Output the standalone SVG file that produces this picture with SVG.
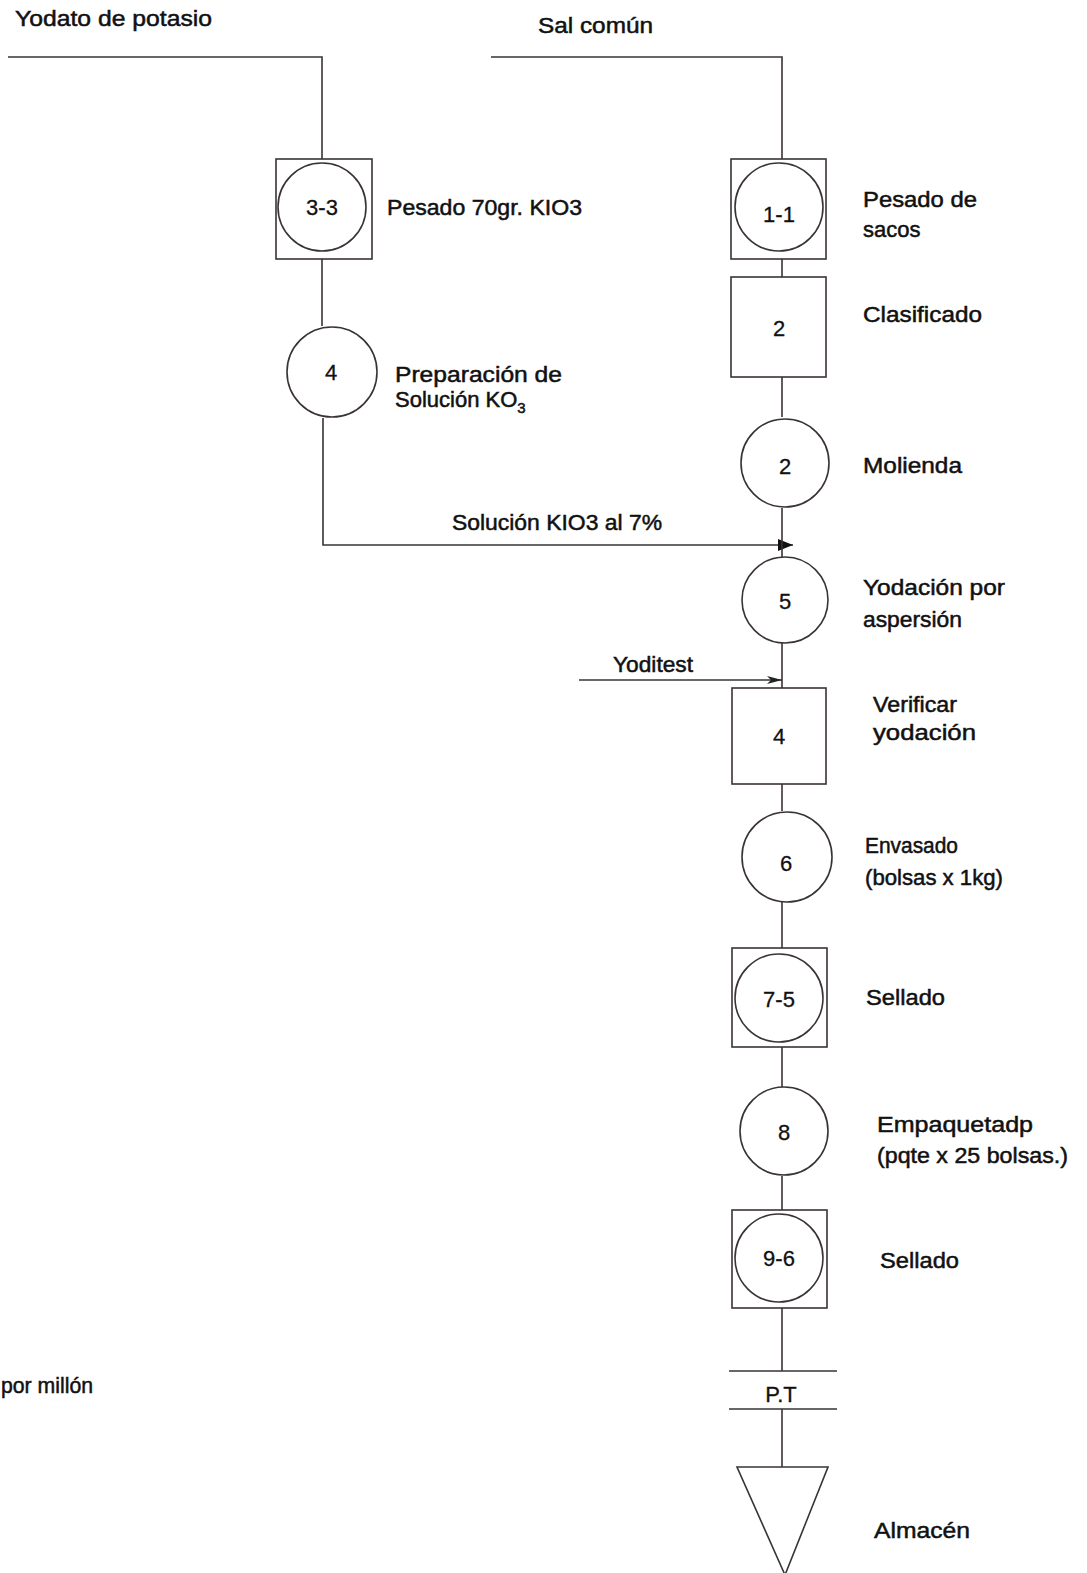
<svg xmlns="http://www.w3.org/2000/svg" width="1087" height="1573" viewBox="0 0 1087 1573">
<style>
  .ln{fill:none;stroke:#3a3336;stroke-width:1.6}
  .sh{fill:#fff;stroke:#3a3336;stroke-width:1.6}
  .t{font-family:"Liberation Sans",Arial,sans-serif;font-size:22px;fill:#111;stroke:#111;stroke-width:0.5}
  .n{font-family:"Liberation Sans",Arial,sans-serif;font-size:22px;fill:#111;stroke:#111;stroke-width:0.3;text-anchor:middle}
</style>
<defs>
  <marker id="ah" markerUnits="userSpaceOnUse" markerWidth="16" markerHeight="12" refX="15" refY="6" orient="auto">
    <path d="M0,0 L15,6 L0,12 Z" fill="#111"/>
  </marker>
  <marker id="ah2" markerUnits="userSpaceOnUse" markerWidth="16" markerHeight="10" refX="15" refY="5" orient="auto">
    <path d="M0,1 L15,5 L0,9 L4,5 Z" fill="#222"/>
  </marker>
</defs>
<rect width="1087" height="1573" fill="#fff"/>

<g id="connectors">
  <path class="ln" d="M8 57 H322 V159"/>
  <path class="ln" d="M491 57 H782 V159"/>
  <path class="ln" d="M322 259 V326"/>
  <path class="ln" d="M323 418 V545 H793" marker-end="url(#ah)"/>
  <path class="ln" d="M782 259 V277"/>
  <path class="ln" d="M782 377 V417"/>
  <path class="ln" d="M782 508 V557"/>
  <path class="ln" d="M782 643 V688"/>
  <path class="ln" d="M579 680 H782" marker-end="url(#ah2)"/>
  <path class="ln" d="M782 784 V811"/>
  <path class="ln" d="M782 902 V948"/>
  <path class="ln" d="M782 1047 V1087"/>
  <path class="ln" d="M782 1176 V1210"/>
  <path class="ln" d="M782 1308 V1371"/>
  <path class="ln" d="M782 1409 V1467"/>
</g>

<g id="input-yodato">
  <text class="t" x="15" y="26" textLength="197" lengthAdjust="spacingAndGlyphs">Yodato de potasio</text>
</g>
<g id="input-sal">
  <text class="t" x="538" y="33" textLength="115" lengthAdjust="spacingAndGlyphs">Sal común</text>
</g>

<g id="node-3-3">
  <rect class="sh" x="276" y="159" width="96" height="100"/>
  <circle class="sh" cx="322" cy="207" r="44"/>
  <text class="n" x="322" y="215">3-3</text>
  <text class="t" x="387" y="215" textLength="195" lengthAdjust="spacingAndGlyphs">Pesado 70gr. KIO3</text>
</g>

<g id="node-4-prep">
  <circle class="sh" cx="332" cy="372" r="45"/>
  <text class="n" x="331" y="380">4</text>
  <text class="t" x="395" y="382" textLength="167" lengthAdjust="spacingAndGlyphs">Preparación de</text>
  <text class="t" x="395" y="407">Solución KO<tspan font-size="15" dy="6">3</tspan></text>
</g>

<g id="label-solucion">
  <text class="t" x="452" y="530" textLength="210" lengthAdjust="spacingAndGlyphs">Solución KIO3 al 7%</text>
</g>

<g id="node-1-1">
  <rect class="sh" x="731" y="159" width="95" height="100"/>
  <circle class="sh" cx="779" cy="207" r="44"/>
  <text class="n" x="779" y="222">1-1</text>
  <text class="t" x="863" y="207" textLength="114" lengthAdjust="spacingAndGlyphs">Pesado de</text>
  <text class="t" x="863" y="237">sacos</text>
</g>

<g id="node-2-clasificado">
  <rect class="sh" x="731" y="277" width="95" height="100"/>
  <text class="n" x="779" y="336">2</text>
  <text class="t" x="863" y="322" textLength="119" lengthAdjust="spacingAndGlyphs">Clasificado</text>
</g>

<g id="node-2-molienda">
  <circle class="sh" cx="785" cy="463" r="44"/>
  <text class="n" x="785" y="474">2</text>
  <text class="t" x="863" y="473" textLength="99" lengthAdjust="spacingAndGlyphs">Molienda</text>
</g>

<g id="node-5">
  <circle class="sh" cx="785" cy="600" r="43"/>
  <text class="n" x="785" y="609">5</text>
  <text class="t" x="863" y="595" textLength="142" lengthAdjust="spacingAndGlyphs">Yodación por</text>
  <text class="t" x="863" y="627" textLength="99" lengthAdjust="spacingAndGlyphs">aspersión</text>
</g>

<g id="label-yoditest">
  <text class="t" x="613" y="672" textLength="80" lengthAdjust="spacingAndGlyphs">Yoditest</text>
</g>

<g id="node-4-verificar">
  <rect class="sh" x="732" y="688" width="94" height="96"/>
  <text class="n" x="779" y="744">4</text>
  <text class="t" x="873" y="712" textLength="84" lengthAdjust="spacingAndGlyphs">Verificar</text>
  <text class="t" x="873" y="740" textLength="103" lengthAdjust="spacingAndGlyphs">yodación</text>
</g>

<g id="node-6">
  <circle class="sh" cx="787" cy="857" r="45"/>
  <text class="n" x="786" y="871">6</text>
  <text class="t" x="865" y="853" textLength="93" lengthAdjust="spacingAndGlyphs">Envasado</text>
  <text class="t" x="865" y="885" textLength="138" lengthAdjust="spacingAndGlyphs">(bolsas x 1kg)</text>
</g>

<g id="node-7-5">
  <rect class="sh" x="732" y="948" width="95" height="99"/>
  <circle class="sh" cx="779" cy="998" r="44"/>
  <text class="n" x="779" y="1007">7-5</text>
  <text class="t" x="866" y="1005" textLength="79" lengthAdjust="spacingAndGlyphs">Sellado</text>
</g>

<g id="node-8">
  <circle class="sh" cx="784" cy="1131" r="44"/>
  <text class="n" x="784" y="1140">8</text>
  <text class="t" x="877" y="1132" textLength="156" lengthAdjust="spacingAndGlyphs">Empaquetadp</text>
  <text class="t" x="877" y="1163" textLength="191" lengthAdjust="spacingAndGlyphs">(pqte x 25 bolsas.)</text>
</g>

<g id="node-9-6">
  <rect class="sh" x="732" y="1210" width="95" height="98"/>
  <circle class="sh" cx="779" cy="1258" r="44"/>
  <text class="n" x="779" y="1266">9-6</text>
  <text class="t" x="880" y="1268" textLength="79" lengthAdjust="spacingAndGlyphs">Sellado</text>
</g>

<g id="node-pt">
  <path class="ln" d="M729 1371 H837 M729 1409 H837"/>
  <text class="n" x="781" y="1402">P.T</text>
</g>

<g id="node-almacen">
  <path class="sh" d="M737 1467 H828 L785 1575 Z"/>
  <text class="t" x="874" y="1538" textLength="96" lengthAdjust="spacingAndGlyphs">Almacén</text>
</g>

<g id="note">
  <text class="t" x="1" y="1393" textLength="92" lengthAdjust="spacingAndGlyphs">por millón</text>
</g>
</svg>
